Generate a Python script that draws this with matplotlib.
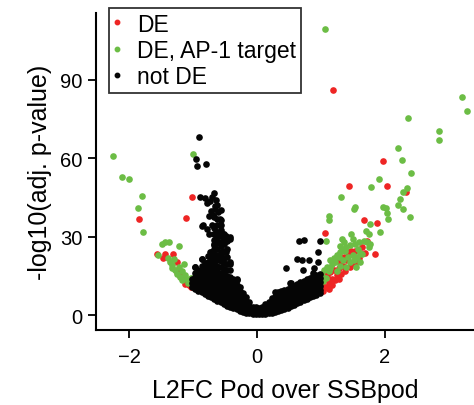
import matplotlib
matplotlib.use('Agg')
import matplotlib.pyplot as plt
from matplotlib.lines import Line2D

# DE genes (not AP-1 targets): (log2 fold change, -log10 adj. p)
de_pts = [
    (1.19, 86.0), (-1.02, 45.4), (-1.12, 37.2), (-1.85, 36.7), (1.98, 58.8),
    (1.44, 49.3), (2.03, 49.4), (1.68, 36.6), (1.88, 35.2), (1.07, 31.4),
    (2.33, 47.3), (1.69, 23.8), (1.85, 23.5),
    (-1.57, 23.6), (-1.47, 21.9), (-1.44, 23.4), (-1.32, 23.4), (-1.25, 20.5),
    (-1.26, 16.6), (-1.15, 14.0), (-1.10, 13.0), (-1.07, 11.5), (-1.03, 10.8),
    (-1.20, 15.0), (-1.13, 12.0),
    (1.43, 24.2), (1.48, 24.8), (1.53, 24.5), (1.25, 21.6), (1.30, 20.4),
    (1.48, 19.7), (1.46, 18.5), (1.72, 28.6), (1.02, 12.0), (1.05, 13.5),
    (1.08, 11.0), (1.10, 15.0), (1.13, 12.5), (1.15, 16.5), (1.18, 14.0),
    (1.20, 17.5), (1.22, 13.5), (1.25, 15.5), (1.28, 18.0), (1.32, 16.0),
    (1.35, 19.0), (1.38, 17.0), (1.40, 21.0), (1.04, 9.5), (1.12, 10.0),
    (1.55, 20.5), (1.60, 22.0), (1.65, 26.0), (1.37, 22.5), (1.28, 13.8),
    (1.18, 11.5), (1.00, 10.5), (1.06, 16.0),
]

# DE genes that are AP-1 targets
ap1_pts = [
    (1.07, 109.5), (-2.25, 61.0), (-2.12, 53.0), (-2.01, 52.2), (-1.80, 45.7),
    (-1.86, 41.0), (-1.78, 32.0), (-1.01, 61.8), (3.21, 83.6), (3.29, 78.0),
    (2.37, 75.4), (2.85, 70.3), (2.85, 67.1), (2.21, 63.8), (2.27, 59.5),
    (2.42, 54.5), (1.91, 52.2), (1.78, 49.2), (1.31, 45.2), (1.53, 41.4),
    (1.52, 40.5), (1.98, 41.5), (2.02, 41.0), (2.04, 39.2), (2.06, 36.7),
    (2.24, 44.3), (2.29, 47.3), (2.35, 48.6), (2.21, 42.0), (2.28, 40.7),
    (2.40, 37.5), (1.13, 37.8), (1.12, 36.3), (1.77, 35.0), (1.92, 31.8),
    (1.70, 32.2), (1.75, 31.2), (1.08, 28.4),
    (1.33, 29.3), (1.36, 28.0), (1.30, 26.7), (1.33, 25.5), (1.30, 24.2),
    (1.48, 31.2), (1.51, 29.3), (1.54, 27.4), (1.67, 28.6), (1.72, 28.0),
    (1.75, 26.1), (1.77, 27.4), (1.58, 25.5), (1.62, 24.0), (1.45, 27.0),
    (1.40, 26.0), (1.38, 24.5), (1.25, 23.0), (1.22, 20.5), (1.18, 19.5),
    (1.15, 18.0), (1.12, 17.0), (1.28, 22.5), (1.42, 22.5), (1.50, 23.0),
    (1.57, 22.5), (1.62, 20.5), (1.52, 21.0), (1.35, 21.0), (1.45, 20.5),
    (1.08, 14.5), (1.10, 18.5), (1.05, 17.5), (1.20, 22.0), (1.30, 19.0),
    (1.40, 18.5), (1.55, 18.5), (1.25, 17.0), (1.02, 15.0), (1.65, 23.5),
    (1.60, 28.0), (1.15, 21.0), (1.03, 13.0),
    (-1.49, 27.4), (-1.44, 28.0), (-1.38, 28.2), (-1.23, 26.5), (-1.55, 23.2),
    (-1.36, 20.4), (-1.34, 19.1), (-1.14, 19.5), (-1.29, 17.2), (-1.26, 15.9),
    (-1.18, 16.8), (-1.21, 14.7), (-1.13, 15.3), (-1.10, 14.0), (-1.04, 14.3),
    (-1.01, 13.7), (-1.40, 22.0), (-1.30, 21.5), (-1.33, 18.0), (-1.22, 18.5),
    (-1.17, 13.5), (-1.08, 12.5),
]

# not DE: x value of each column of genes and their -log10 p values
notde_cols = {
    -1.02: [10.8, 12.3, 13.8],
    -0.97: [10.2, 11.6, 13.1, 14.7, 16.3, 18.4],
    -0.92: [9.5, 11.0, 12.5, 14.0, 15.6, 17.2],
    -0.87: [8.8, 10.3, 11.8, 13.4, 15.0, 16.8, 18.9, 21.6],
    -0.82: [8.2, 9.7, 11.2, 12.8, 14.5, 16.4, 17.9, 20.2],
    -0.77: [7.6, 9.0, 10.6, 12.2, 13.9, 15.7, 17.5, 19.3, 20.4, 22.8],
    -0.72: [7.0, 8.5, 10.0, 11.6, 13.2, 15.0, 16.8, 18.6, 20.5, 22.4, 24.3],
    -0.67: [6.3, 7.9, 9.4, 11.0, 12.6, 14.3, 16.0, 17.8, 19.6, 21.5, 23.3,
            25.2, 27.0, 29.0, 31.2, 33.4],
    -0.62: [5.6, 7.1, 8.7, 10.3, 11.9, 13.6, 15.3, 17.1, 18.9, 21.0, 23.2,
            25.3, 27.5, 29.8, 32.0, 34.6, 37.0],
    -0.57: [5.0, 6.5, 8.0, 9.6, 11.2, 12.9, 14.6, 16.4, 18.5, 20.8, 22.7,
            24.2, 26.5, 28.0, 30.3, 32.6, 34.6, 40.2],
    -0.52: [4.4, 5.9, 7.4, 8.9, 10.5, 12.2, 13.9, 15.8, 17.8, 19.9, 22.0,
            24.5, 27.2, 29.0, 31.2],
    -0.47: [3.8, 5.3, 6.8, 8.3, 9.9, 11.6, 13.3, 15.2, 17.5, 19.8, 22.5, 25.5, 28.4],
    -0.42: [3.3, 4.8, 6.3, 7.8, 9.4, 11.0, 12.8, 14.8, 17.3, 19.5],
    -0.37: [2.8, 4.3, 5.8, 7.3, 8.9, 10.5, 12.4, 14.0],
    -0.32: [2.3, 3.8, 5.3, 6.8, 8.4, 10.0, 11.8, 13.6],
    -0.27: [1.8, 3.3, 4.8, 6.3, 7.8, 9.5, 11.0],
    -0.22: [1.4, 2.9, 4.4, 5.9, 7.4, 8.7],
    -0.17: [1.1, 2.5, 4.0, 5.4, 6.9],
    -0.12: [0.8, 2.2, 3.6, 5.0],
    -0.07: [0.6, 1.9, 3.2],
    -0.02: [0.5, 1.8, 3.1],
    0.03: [0.5, 1.8, 3.0],
    0.08: [0.6, 1.9, 3.2],
    0.13: [0.7, 2.0, 3.3, 4.4],
    0.18: [0.9, 2.2, 3.6, 5.0],
    0.23: [1.1, 2.5, 3.9, 5.4, 6.5],
    0.28: [1.4, 2.8, 4.2, 5.7, 7.2, 8.9],
    0.33: [1.7, 3.1, 4.6, 6.1, 7.6, 9.0],
    0.38: [2.1, 3.5, 5.0, 6.5, 8.0, 9.4],
    0.43: [2.5, 3.9, 5.4, 6.9, 8.4, 9.8],
    0.48: [3.0, 4.4, 5.9, 7.4, 8.9, 10.3],
    0.53: [3.5, 4.9, 6.4, 7.9, 9.4, 10.8, 12.5],
    0.58: [4.0, 5.4, 6.9, 8.4, 9.9, 11.3],
    0.63: [4.6, 6.0, 7.5, 9.0, 10.5, 12.0],
    0.68: [5.2, 6.6, 8.1, 9.6, 11.1, 12.6],
    0.73: [5.8, 7.2, 8.7, 10.2, 11.7, 13.2],
    0.78: [6.4, 7.8, 9.3, 10.8, 12.3, 13.9],
    0.83: [7.0, 8.4, 9.9, 11.4, 12.9, 14.5],
    0.88: [7.5, 8.9, 10.4, 11.9, 13.4, 15.0, 16.3],
    0.93: [8.0, 9.4, 10.9, 12.4, 13.9, 15.5],
    0.98: [8.4, 9.8, 11.3, 12.8, 14.4, 16.0],
}

# not DE genes lying outside the main mass
notde_extra = [
    (-0.91, 68.3), (-0.95, 59.8), (-0.94, 57.1), (-0.80, 57.9), (-0.89, 45.4),
    (-0.82, 44.8), (-0.74, 43.9), (-0.67, 46.7), (-0.70, 45.3), (-0.66, 40.7),
    (-0.76, 37.8), (-0.68, 37.5), (-0.84, 34.4), (-0.87, 34.0), (-0.71, 34.4),
    (-0.58, 34.6), (-0.66, 41.9), (-0.61, 39.4), (-0.58, 36.8), (-0.63, 31.8),
    (-0.79, 33.0), (-0.75, 31.0), (-0.68, 31.2), (-0.48, 29.2), (-0.68, 27.3),
    (-0.74, 24.1), (-0.53, 24.1), (-0.87, 21.6), (-0.97, 18.5), (-0.60, 28.0),
    (-0.55, 24.2), (-0.48, 30.5), (-0.62, 42.0), (-0.57, 36.5), (-0.53, 31.2),
    (-0.42, 29.9), (-0.32, 14.0), (-0.69, 38.5), (-0.78, 43.0), (-0.43, 20.3),
    (-0.49, 24.1), (-0.42, 29.2), (-0.64, 44.0), (-0.72, 40.0),
    (0.65, 28.6), (0.73, 29.0), (0.99, 28.5), (0.95, 24.2), (0.62, 21.6),
    (0.70, 21.0), (0.82, 21.0), (0.45, 18.2), (0.72, 17.2), (0.52, 12.5),
    (0.30, 8.4), (0.90, 18.0), (0.95, 20.5),
]

de_x = [p[0] for p in de_pts]
de_y = [p[1] for p in de_pts]
ap1_x = [p[0] for p in ap1_pts]
ap1_y = [p[1] for p in ap1_pts]
nd_x = [x for x, ys in notde_cols.items() for _ in ys] + [p[0] for p in notde_extra]
nd_y = [y for ys in notde_cols.values() for y in ys] + [p[1] for p in notde_extra]

red = '#ee2524'
green = '#6cbd45'
black = '#050505'

plt.rcParams['font.family'] = ['Liberation Sans', 'DejaVu Sans']

fig = plt.figure(figsize=(4.74, 4.06), dpi=100)
ax = fig.add_axes([0.203, 0.185, 0.797, 0.7805])

ax.scatter(de_x, de_y, s=23, color=red, linewidths=0, zorder=2)
ax.scatter(ap1_x, ap1_y, s=23, color=green, linewidths=0, zorder=2)
ax.scatter(nd_x, nd_y, s=23, color=black, linewidths=0, zorder=3)

ax.set_xlim(-2.52, 3.40)
ax.set_ylim(-5.5, 115.5)
ax.set_xticks([-2, 0, 2])
ax.set_yticks([0, 30, 60, 90])

for side in ['top', 'right']:
    ax.spines[side].set_visible(False)
for side in ['left', 'bottom']:
    ax.spines[side].set_linewidth(1.5)
ax.tick_params(width=1.3, length=6, labelsize=14.5, pad=4)
ax.tick_params(axis='x', pad=6)

ax.set_xlabel('L2FC Pod over SSBpod', fontsize=18, labelpad=9)
ax.set_ylabel('-log10(adj. p-value)', fontsize=18, labelpad=6)

handles = [
    Line2D([], [], marker='o', linestyle='none', color=red, markersize=3.2),
    Line2D([], [], marker='o', linestyle='none', color=green, markersize=3.2),
    Line2D([], [], marker='o', linestyle='none', color=black, markersize=3.2),
]
leg = fig.legend(handles, ['DE', 'DE, AP-1 target', 'not DE'],
                 loc='upper left', bbox_to_anchor=(0.230, 0.978),
                 fontsize=16.5, frameon=True, fancybox=False,
                 borderaxespad=0, borderpad=0.2, handletextpad=0.72,
                 handlelength=0.3, labelspacing=0.14)
leg.get_frame().set_edgecolor('black')
leg.get_frame().set_linewidth(1.3)

fig.savefig('out.png', dpi=100)
